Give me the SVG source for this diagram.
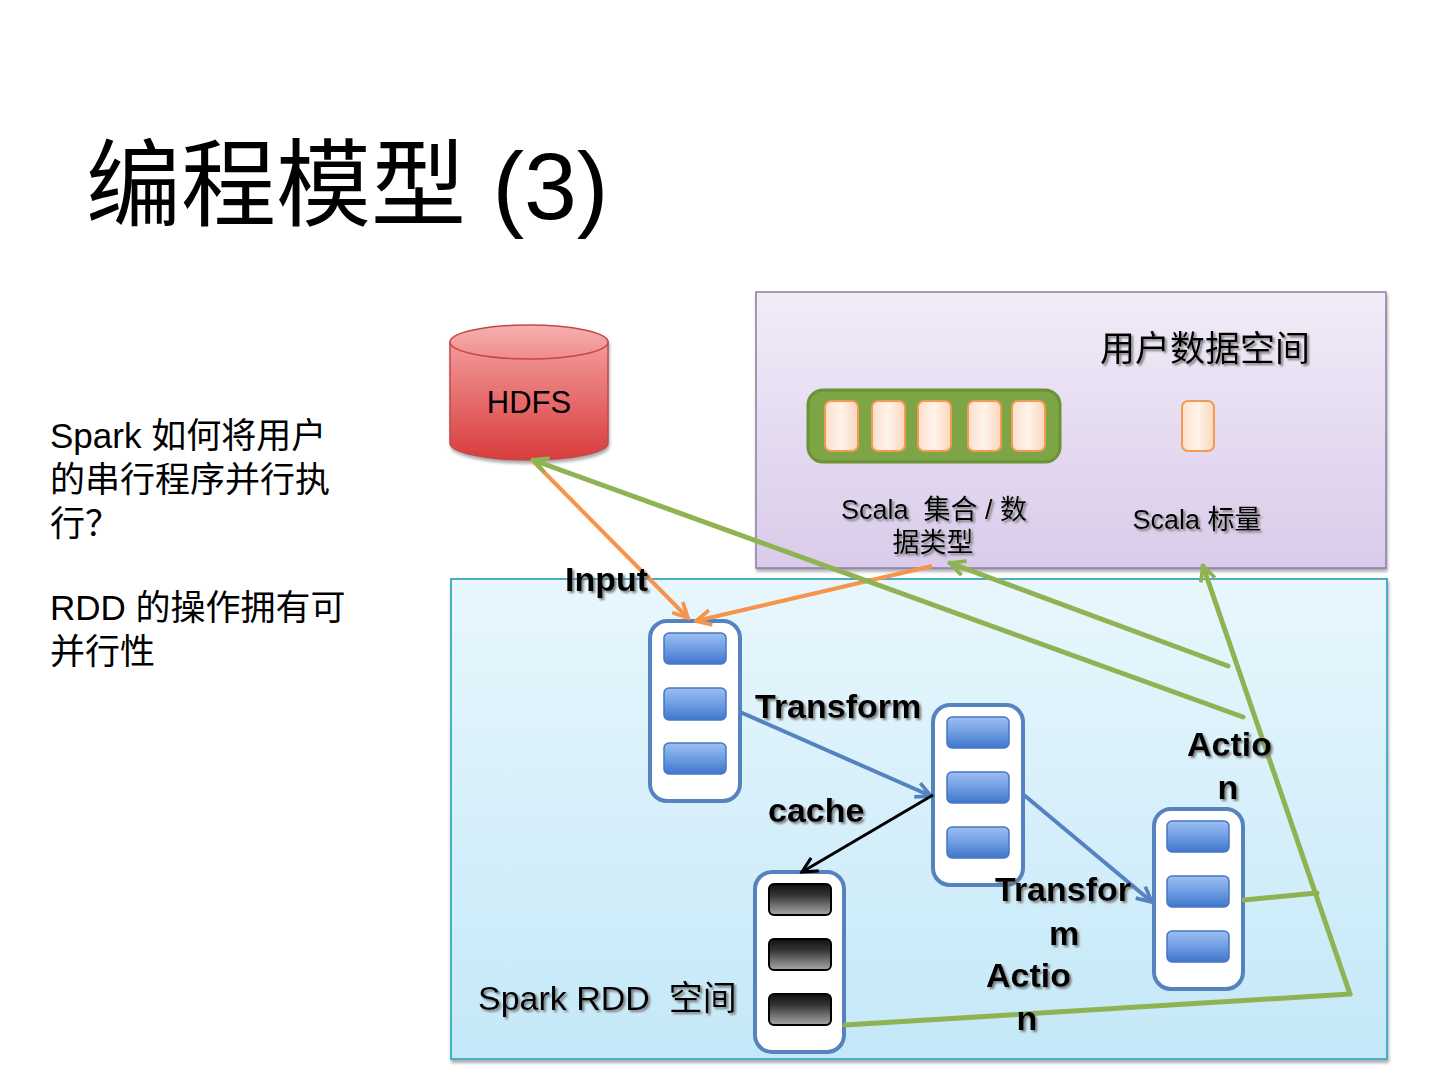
<svg xmlns="http://www.w3.org/2000/svg" width="1440" height="1080" viewBox="0 0 1440 1080">
<defs>
<style>
.title{font-family:"Liberation Sans","Noto Sans CJK SC",sans-serif;font-size:95px;fill:#000}
.side{font-family:"Liberation Sans","Noto Sans CJK SC",sans-serif;font-size:35px;fill:#000}
.cjk{font-family:"Noto Sans CJK SC",sans-serif}
.lbl{font-family:"Liberation Sans","Noto Sans CJK SC",sans-serif;font-size:34px;font-weight:bold;fill:#000}
.sp{font-family:"Liberation Sans","Noto Sans CJK SC",sans-serif;fill:#000;white-space:pre}
.rdd{fill:#fff;stroke:#5683c0;stroke-width:4}
.bb{fill:url(#gBlue);stroke:#4677c0;stroke-width:1.5}
.kb{fill:url(#gBlack);stroke:#000;stroke-width:2}
.pc{fill:url(#gPeach);stroke:#f29a52;stroke-width:2}
.g{stroke:#8fb352;stroke-width:5;fill:none;stroke-linecap:round}
.o{stroke:#f5944a;stroke-width:4;fill:none}
.b{stroke:#5683c0;stroke-width:4;fill:none}
.k{stroke:#000;stroke-width:3;fill:none}
</style>
<linearGradient id="gPurple" x1="0" y1="0" x2="0" y2="1"><stop offset="0" stop-color="#f1ecf8"/><stop offset="1" stop-color="#dacbea"/></linearGradient>
<linearGradient id="gSky" x1="0" y1="0" x2="0" y2="1"><stop offset="0" stop-color="#e8f7fd"/><stop offset="1" stop-color="#c4e8f8"/></linearGradient>
<linearGradient id="gBlue" x1="0" y1="0" x2="0" y2="1"><stop offset="0" stop-color="#9dbff2"/><stop offset="0.5" stop-color="#6f9de3"/><stop offset="1" stop-color="#3f76cc"/></linearGradient>
<linearGradient id="gBlack" x1="0" y1="0" x2="0" y2="1"><stop offset="0" stop-color="#111"/><stop offset="0.35" stop-color="#333"/><stop offset="1" stop-color="#a8a8a8"/></linearGradient>
<linearGradient id="gPeach" x1="0" y1="0" x2="1" y2="0"><stop offset="0" stop-color="#fce0cc"/><stop offset="0.5" stop-color="#fff3ea"/><stop offset="1" stop-color="#fbd6bc"/></linearGradient>
<linearGradient id="gRed" x1="0" y1="0" x2="0" y2="1"><stop offset="0" stop-color="#f39a9a"/><stop offset="1" stop-color="#d83c3c"/></linearGradient>
<linearGradient id="gRedTop" x1="0" y1="0" x2="0" y2="1"><stop offset="0" stop-color="#f6b0b0"/><stop offset="1" stop-color="#f08c8c"/></linearGradient>
<filter id="ts" x="-10%" y="-20%" width="130%" height="150%"><feDropShadow dx="2" dy="2" stdDeviation="0.8" flood-color="#707070" flood-opacity="0.9"/></filter>
<filter id="bs" x="-5%" y="-5%" width="110%" height="115%"><feDropShadow dx="1" dy="3" stdDeviation="1.5" flood-color="#777" flood-opacity="0.6"/></filter>
<marker id="aG" markerUnits="userSpaceOnUse" markerWidth="20" markerHeight="20" viewBox="0 0 16 16" refX="14" refY="8" orient="auto"><path d="M2,2 L14,8 L2,14" fill="none" stroke="#8fb352" stroke-width="3"/></marker>
<marker id="aO" markerUnits="userSpaceOnUse" markerWidth="20" markerHeight="20" viewBox="0 0 16 16" refX="14" refY="8" orient="auto"><path d="M2,2 L14,8 L2,14" fill="none" stroke="#f5944a" stroke-width="3"/></marker>
<marker id="aB" markerUnits="userSpaceOnUse" markerWidth="20" markerHeight="20" viewBox="0 0 16 16" refX="14" refY="8" orient="auto"><path d="M2,2 L14,8 L2,14" fill="none" stroke="#5683c0" stroke-width="3"/></marker>
<marker id="aK" markerUnits="userSpaceOnUse" markerWidth="20" markerHeight="20" viewBox="0 0 16 16" refX="14" refY="8" orient="auto"><path d="M2,2 L14,8 L2,14" fill="none" stroke="#000" stroke-width="2.5"/></marker>
</defs>
<rect width="1440" height="1080" fill="#fff"/>

<g id="title"><text class="title" x="86" y="219">编程模型 (3)</text></g>

<g id="side-text">
<text class="side" x="50" y="448">Spark 如何将用户</text>
<text class="side" x="50" y="492">的串行程序并行执</text>
<text class="side cjk" x="50" y="536">行？</text>
<text class="side" x="50" y="620">RDD 的操作拥有可</text>
<text class="side" x="50" y="664">并行性</text>
</g>

<g id="user-space">
<rect x="756" y="292" width="630" height="276" fill="url(#gPurple)" stroke="#8a7ea6" stroke-width="1.5" filter="url(#bs)"/>
<text class="sp" x="1100" y="361" font-size="35" filter="url(#ts)">用户数据空间</text>
</g>

<g id="spark-space">
<rect x="451" y="579" width="936" height="480" fill="url(#gSky)" stroke="#4badc8" stroke-width="2" filter="url(#bs)"/>
<text class="sp" x="478" y="1010" font-size="34" filter="url(#ts)" xml:space="preserve">Spark RDD  空间</text>
</g>

<g id="scala-collection">
<rect x="808" y="390" width="252" height="72" rx="15" fill="#7ea545" stroke="#6a9334" stroke-width="3"/>
<rect class="pc" x="825" y="401" width="33" height="50" rx="6"/>
<rect class="pc" x="872" y="401" width="33" height="50" rx="6"/>
<rect class="pc" x="918" y="401" width="33" height="50" rx="6"/>
<rect class="pc" x="968" y="401" width="33" height="50" rx="6"/>
<rect class="pc" x="1012" y="401" width="33" height="50" rx="6"/>
<text class="sp" x="934" y="519" font-size="27" text-anchor="middle" filter="url(#ts)" xml:space="preserve">Scala  集合 / 数</text>
<text class="sp" x="933" y="552" font-size="27" text-anchor="middle" filter="url(#ts)">据类型</text>
</g>

<g id="scala-scalar">
<rect class="pc" x="1182" y="401" width="32" height="50" rx="6"/>
<text class="sp" x="1197" y="529" font-size="27" text-anchor="middle" filter="url(#ts)">Scala 标量</text>
</g>

<g id="hdfs">
<g filter="url(#bs)">
<path d="M450,342 L450,443 A79,17 0 0 0 608,443 L608,342 Z" fill="url(#gRed)" stroke="#c24a48" stroke-width="1.5"/>
<ellipse cx="529" cy="342" rx="79" ry="17" fill="url(#gRedTop)" stroke="#c24a48" stroke-width="1.5"/>
</g>
<text class="sp" x="529" y="413" font-size="31" text-anchor="middle">HDFS</text>
</g>

<g id="rdd1">
<rect class="rdd" x="650" y="621" width="90" height="180" rx="17"/>
<rect class="bb" x="664" y="633" width="62" height="31" rx="5"/>
<rect class="bb" x="664" y="688" width="62" height="32" rx="5"/>
<rect class="bb" x="664" y="743" width="62" height="31" rx="5"/>
</g>

<g id="rdd2">
<rect class="rdd" x="933" y="705" width="90" height="180" rx="17"/>
<rect class="bb" x="947" y="717" width="62" height="31" rx="5"/>
<rect class="bb" x="947" y="772" width="62" height="31" rx="5"/>
<rect class="bb" x="947" y="827" width="62" height="31" rx="5"/>
</g>

<g id="rdd-cache">
<rect class="rdd" x="755" y="872" width="89" height="180" rx="17"/>
<rect class="kb" x="769" y="884" width="62" height="31" rx="5"/>
<rect class="kb" x="769" y="939" width="62" height="31" rx="5"/>
<rect class="kb" x="769" y="994" width="62" height="31" rx="5"/>
</g>

<g id="rdd3">
<rect class="rdd" x="1154" y="809" width="89" height="180" rx="17"/>
<rect class="bb" x="1167" y="821" width="62" height="31" rx="5"/>
<rect class="bb" x="1167" y="876" width="62" height="31" rx="5"/>
<rect class="bb" x="1167" y="931" width="62" height="31" rx="5"/>
</g>

<g id="connectors">
<line class="o" x1="532" y1="460" x2="688" y2="618" marker-end="url(#aO)"/>
<line class="o" x1="932" y1="566" x2="696" y2="621" marker-end="url(#aO)"/>
<line class="g" x1="1243" y1="717" x2="533" y2="460" marker-end="url(#aG)"/>
<line class="g" x1="1228" y1="666" x2="950" y2="563" marker-end="url(#aG)"/>
<line class="g" x1="1350" y1="994" x2="1203" y2="566" marker-end="url(#aG)"/>
<line class="g" x1="1244" y1="900" x2="1317" y2="893"/>
<line class="g" x1="845" y1="1025" x2="1350" y2="994"/>
<line class="b" x1="740" y1="712" x2="931" y2="796" marker-end="url(#aB)"/>
<line class="b" x1="1024" y1="795" x2="1152" y2="902" marker-end="url(#aB)"/>
<line class="k" x1="933" y1="795" x2="802" y2="872" marker-end="url(#aK)"/>
</g>

<g id="labels" filter="url(#ts)">
<text class="lbl" x="565" y="591">Input</text>
<text class="lbl" x="755" y="718">Transform</text>
<text class="lbl" x="768" y="822">cache</text>
<text class="lbl" x="1187" y="756">Actio</text>
<text class="lbl" x="1228" y="799" text-anchor="middle">n</text>
<text class="lbl" x="995" y="901">Transfor</text>
<text class="lbl" x="1064" y="945" text-anchor="middle">m</text>
<text class="lbl" x="986" y="987">Actio</text>
<text class="lbl" x="1027" y="1030" text-anchor="middle">n</text>
</g>
</svg>
